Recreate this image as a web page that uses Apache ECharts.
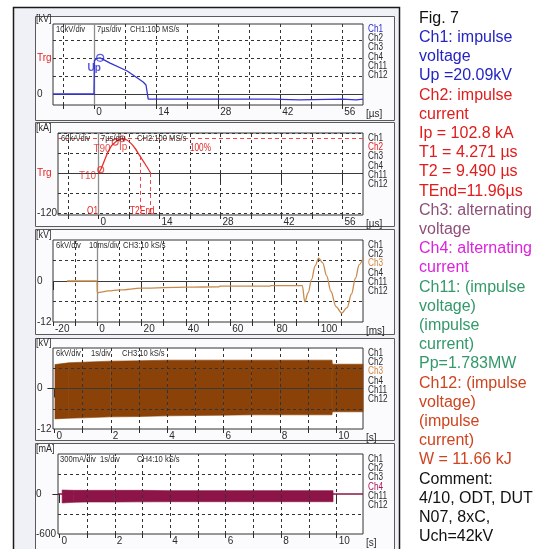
<!DOCTYPE html>
<html>
<head>
<meta charset="utf-8">
<script src="https://cdn.jsdelivr.net/npm/echarts@6/dist/echarts.min.js"></script>
<style>
  html, body { margin: 0; padding: 0; background: #ffffff; }
  #c { width: 536px; height: 549px; }
</style>
</head>
<body>
<div id="c"></div>
<script>
// ---------- Measured values ----------
// Ch1: impulse voltage [kV] over time [µs]
const upPeak = 20.09;
const upTime = 1.35;
const ch1Time = [-9.3, -0.05, 0.05, 0.6, upTime, 3.6, 7.45, 11.06, 11.7, 12.2, 40.2, 40.6, 46.3, 46.7, 56.0, 56.4, 59.2, 59.6, 60.7];
const ch1Volt = [0, 0, 18.5, 19.8, upPeak, 17.2, 12.8, 6.7, 5.0, -2.8, -2.8, -3.3, -3.3, -2.8, -2.8, -3.3, -3.3, -2.8, -2.8];

// Ch2: impulse current [kA] over time [µs]
const ipPeak = 102.8;
const t1 = 4.271, t2 = 9.490, tEnd = 11.96;
const ch2Time = [0, 0.5, 1.2, 2.0, 3.0, 3.83, 4.6, 5.4, 6.5, 7.5, 8.5, t2, 10.7, tEnd];
const ch2Curr = [0, 10, 32, 58, 82, 92.5, 99, ipPeak, 99, 88, 72, 51.4, 27, 0];
// marked points on the front: 10 %, 90 %, peak
const ch2MarkTime = [0.5, 3.83, 5.4];
const ch2MarkCurr = [10, 92.5, ipPeak];
const ch2MarkName = ['T10', 'T90', 'Ip'];

// Ch3: alternating voltage [kV] over time [ms]
const ch3Time = [-13.7, -0.1, 0, 1, 5, 10, 20, 40, 55, 55.3, 78, 78.3, 92.6, 93.7, 95.2, 96.8, 98.4, 100, 101.8, 103.6, 105.5, 107.8, 110.4, 112.8, 114.8, 116.6, 118.3, 120];
const ch3Volt = [0, 0, -3.5, -3.3, -2.9, -2.6, -2.1, -1.8, -1.7, -1.5, -1.5, -1.35, -1.35, -6.1, -3.5, 0.5, 4.5, 6.7, 5.3, 1.5, -3, -7.5, -9.4, -7.8, -3.8, 0.8, 4.8, 6.7];

// Ch3 long record: envelope of the alternating voltage [kV] over time [s]
const ch3EnvTime = [0.02, 0.5, 1, 2, 3, 4, 5, 6, 7, 8, 9, 9.84, 9.86, 10.95];
const ch3EnvHigh = [7.1, 7.6, 7.8, 8.1, 8.2, 8.4, 8.4, 8.4, 8.4, 8.4, 8.4, 8.4, 7.2, 7.2];
const ch3EnvLow  = [-9.0, -8.8, -8.7, -8.4, -8.3, -8.1, -8.0, -7.9, -7.8, -7.8, -7.8, -7.8, -6.9, -6.9];

// Ch4 long record: envelope of the alternating current [mA] over time [s]
const ch4EnvTime = [0.1, 0.5, 1, 2, 3, 4, 5, 6, 7, 8, 9, 9.87];
const ch4EnvHigh = [60, 55, 55, 55, 55, 50, 50, 50, 50, 50, 50, 50];
const ch4EnvLow  = [-135, -125, -120, -120, -118, -116, -116, -116, -116, -116, -116, -116];
const ch4LineTime = [-0.05, 10.95];
const ch4LineCurr = [0, 0];

// Axis tick labels
const usTicks = [0, 14, 28, 42, 56];
const usDivs = [-7, 0, 7, 14, 21, 28, 35, 42, 49, 56];
const msTicks = [-20, 0, 20, 40, 60, 80, 100];
const msDivs = [-20, -10, 0, 10, 20, 30, 40, 50, 60, 70, 80, 90, 100, 110];
const sTicks = [0, 2, 4, 6, 8, 10];
const sDivs = [0, 1, 2, 3, 4, 5, 6, 7, 8, 9, 10];

// Side legend text
const notes = [
  ['Fig. 7', '#111111'],
  ['Ch1: impulse', '#2424c4'], ['voltage', '#2424c4'], ['Up =20.09kV', '#2424c4'],
  ['Ch2: impulse', '#e01c1c'], ['current', '#e01c1c'], ['Ip = 102.8 kA', '#e01c1c'],
  ['T1 = 4.271 µs', '#e01c1c'], ['T2 = 9.490 µs', '#e01c1c'], ['TEnd=11.96µs', '#e01c1c'],
  ['Ch3: alternating', '#8e4f78'], ['voltage', '#8e4f78'],
  ['Ch4: alternating', '#dd22dd'], ['current', '#dd22dd'],
  ['Ch11: (impulse', '#33996a'], ['voltage)', '#33996a'], ['(impulse', '#33996a'], ['current)', '#33996a'], ['Pp=1.783MW', '#33996a'],
  ['Ch12: (impulse', '#cf4420'], ['voltage)', '#cf4420'], ['(impulse', '#cf4420'], ['current)', '#cf4420'], ['W = 11.66 kJ', '#cf4420'],
  ['Comment:', '#111111'], ['4/10, ODT, DUT', '#111111'], ['N07, 8xC,', '#111111'], ['Uch=42kV', '#111111']
];
const chanNames = ['Ch1', 'Ch2', 'Ch3', 'Ch4', 'Ch11', 'Ch12'];

// ---------- Layout and styling ----------
const FONT = "'Liberation Sans', Arial, sans-serif";
const INK = '#2b2b2b';
const pair = (xs, ys) => xs.map((x, i) => [x, ys[i]]);

const panels = [
  { box: [16, 120], grid: { left: 53, top: 24, width: 310, height: 81 }, x: [-9.3, 60.7], y: [-6.1, 38.9],
    ticks: usTicks, divs: usDivs, vgrid: [-7, 7, 14, 21, 28, 35, 42, 49, 56], hgrid: [10, 20, 30], x0: true, y0: true,
    ylab: [0, 20], trg: 20, ymargin: 16, unit: '[µs]', yunit: '[kV]', active: 0, activeColor: '#2a2ad0',
    head: ['10kV/div', '7µs/div', 'CH1:100 MS/s'], headX: [56, 97, 130] },
  { box: [122, 226], grid: { left: 58, top: 133, width: 305, height: 82 }, x: [-9.3, 60.7], y: [-126, 120],
    ticks: usTicks, divs: usDivs, vgrid: [-7, 7, 14, 21, 28, 35, 42, 49, 56], hgrid: [120, 60, -60, -120], x0: true, y0: true,
    ylab: [0, -120], trg: 0, ymargin: 21, unit: '[µs]', yunit: '[kA]', active: 1, activeColor: '#e02020',
    head: ['60kA/div', '7µs/div', 'CH2:100 MS/s'], headX: [61, 101, 137] },
  { box: [229, 334], grid: { left: 53, top: 240, width: 310, height: 82 }, x: [-20, 120], y: [-12, 12],
    ticks: msTicks, divs: msDivs, vgrid: [-10, 10, 20, 30, 40, 50, 60, 70, 80, 90, 100, 110], hgrid: [6, -6], x0: true, y0: true,
    ylab: [0, -12], trg: null, ymargin: 16, unit: '[ms]', yunit: '[kV]', active: 2, activeColor: '#d0863e',
    head: ['6kV/div', '10ms/div', 'CH3:10 kS/s'], headX: [56, 89, 123] },
  { box: [338, 440], grid: { left: 53, top: 348, width: 310, height: 81 }, x: [-0.05, 10.95], y: [-12, 12],
    ticks: sTicks, divs: sDivs, vgrid: [1, 2, 3, 4, 5, 6, 7, 8, 9, 10], hgrid: [6, -6], x0: false, y0: true,
    ylab: [0, -12], trg: null, ymargin: 16, unit: '[s]', yunit: '[kV]', active: 2, activeColor: '#d0863e',
    head: ['6kV/div', '1s/div', 'CH3:10 kS/s'], headX: [56, 91, 122] },
  { box: [443, 560], grid: { left: 58, top: 454, width: 305, height: 80 }, x: [-0.05, 10.95], y: [-600, 600],
    ticks: sTicks, divs: sDivs, vgrid: [1, 2, 3, 4, 5, 6, 7, 8, 9, 10], hgrid: [300, -300], x0: false, y0: false,
    ylab: [0, -600], trg: null, ymargin: 22, unit: '[s]', yunit: '[mA]', active: 3, activeColor: '#a8195a',
    head: ['300mA/div', '1s/div', 'CH4:10 kS/s'], headX: [60, 100, 137] }
];

const grids = [], xAxes = [], yAxes = [], series = [], graphics = [];

graphics.push({ type: 'rect', z: -20, shape: { x: 13.5, y: 7.5, width: 386, height: 560 },
  style: { fill: '#f0f0f7', stroke: '#1a1a1a', lineWidth: 1.5 } });

panels.forEach((p, i) => {
  grids.push(Object.assign({ show: true, backgroundColor: '#ffffff', borderColor: '#333333', borderWidth: 1 }, p.grid));
  // labelled ticks
  xAxes.push({
    type: 'value', gridIndex: i, min: p.x[0], max: p.x[1], position: 'bottom',
    axisLine: { show: false }, splitLine: { show: false },
    axisTick: { show: true, customValues: p.ticks, length: 9, lineStyle: { color: INK } },
    axisLabel: { customValues: p.ticks, showMinLabel: true, showMaxLabel: true, align: 'left', margin: 2,
      padding: [0, 0, 0, 2], fontSize: 10, color: INK, fontFamily: FONT }
  });
  // division ticks
  xAxes.push({
    type: 'value', gridIndex: i, min: p.x[0], max: p.x[1], position: 'bottom',
    axisLine: { show: false }, splitLine: { show: false }, axisLabel: { show: false },
    axisTick: { show: true, customValues: p.divs, length: 4, lineStyle: { color: INK } }
  });
  yAxes.push({
    type: 'value', gridIndex: i, min: p.y[0], max: p.y[1],
    axisLine: { show: false }, splitLine: { show: false },
    axisTick: { show: true, customValues: [0], length: 7, lineStyle: { color: INK } },
    axisLabel: {
      customValues: p.ylab, align: 'left', margin: p.ymargin, fontSize: 10, color: INK, fontFamily: FONT,
      formatter: v => (p.trg !== null && v === p.trg) ? '{t|Trg}' : String(v),
      rich: { t: { color: '#e42222', fontSize: 10, fontFamily: FONT } }
    }
  });

  // division grid and zero lines
  const ml = [];
  p.vgrid.forEach(v => ml.push({ xAxis: v, lineStyle: { type: [3, 3], color: '#333333', width: 1 } }));
  p.hgrid.forEach(v => ml.push({ yAxis: v, lineStyle: { type: [3, 3], color: '#333333', width: 1 } }));
  if (p.x0) ml.push({ xAxis: 0, lineStyle: { type: 'solid', color: '#8d8d8d', width: 1.3 } });
  if (p.y0) ml.push({ yAxis: 0, lineStyle: { type: 'solid', color: '#3a3a3a', width: 1.2 } });
  series.push({
    type: 'line', xAxisIndex: 2 * i, yAxisIndex: i, data: [], z: 4, silent: true,
    markLine: { symbol: ['none', 'none'], silent: true, animation: false, label: { show: false }, data: ml }
  });

  // panel frame
  graphics.push({ type: 'rect', z: -10, shape: { x: 35.5, y: p.box[0] + 0.5, width: 359, height: p.box[1] - p.box[0] },
    style: { fill: '#fbfbfd', stroke: '#5a5a5a', lineWidth: 1 } });
  // unit labels
  graphics.push({ type: 'text', z: 50, x: 36, y: p.grid.top - 5,
    style: { text: p.yunit, fontSize: 10, fontFamily: FONT, fill: INK, textVerticalAlign: 'middle' }, scaleX: 0.9 });
  graphics.push({ type: 'text', z: 50, x: 366, y: p.grid.top + p.grid.height + 9,
    style: { text: p.unit, fontSize: 10, fontFamily: FONT, fill: INK, textVerticalAlign: 'middle' } });
  // header row inside the plot
  p.head.forEach((s, k) => graphics.push({ type: 'text', z: 50, x: p.headX[k], y: p.grid.top + 5, scaleX: 0.8,
    style: { text: s, fontSize: 9.5, fontFamily: FONT, fill: INK, textVerticalAlign: 'middle' } }));
  // channel list
  chanNames.forEach((s, k) => graphics.push({ type: 'text', z: 50, x: 368, y: p.grid.top + 5 + k * 9.3, scaleX: 0.82,
    style: { text: s, fontSize: 10, fontFamily: FONT, fill: k === p.active ? p.activeColor : INK, textVerticalAlign: 'middle' } }));
});

// filled envelope between a high and a low trace, drawn through the axis scales
function envelope(xi, yi, ts, hi, lo, color) {
  return {
    type: 'custom', xAxisIndex: xi, yAxisIndex: yi, z: 2, silent: true,
    data: ts.map((t, k) => [t, hi[k], lo[k]]),
    encode: { x: 0, y: [1, 2] },
    renderItem: (params, api) => {
      const k = params.dataIndexInside;
      if (k >= params.dataInsideLength - 1) return null;
      const pts = [
        api.coord([api.value(0, k), api.value(1, k)]),
        api.coord([api.value(0, k + 1), api.value(1, k + 1)]),
        api.coord([api.value(0, k + 1), api.value(2, k + 1)]),
        api.coord([api.value(0, k), api.value(2, k)])
      ];
      return { type: 'polygon', shape: { points: pts }, style: { fill: color, stroke: color, lineWidth: 0.6 } };
    }
  };
}

// ---- Panel 1: impulse voltage ----
series.push({ type: 'line', xAxisIndex: 0, yAxisIndex: 0, data: pair(ch1Time, ch1Volt), symbol: 'none',
  lineStyle: { color: '#3434d6', width: 1.3 }, z: 5 });
series.push({ type: 'scatter', xAxisIndex: 0, yAxisIndex: 0, data: [[upTime, upPeak]], symbol: 'circle', symbolSize: 7,
  itemStyle: { color: 'rgba(0,0,0,0)', borderColor: '#3434d6', borderWidth: 1.2 }, z: 6,
  label: { show: true, position: 'bottom', distance: 1, offset: [-6, 0], formatter: 'Up', color: '#2a2ad0', fontSize: 10, fontFamily: FONT, fontWeight: 'bold' } });

// ---- Panel 2: impulse current ----
const redDash = { type: [4, 3], color: '#f04848', width: 1 };
series.push({ type: 'line', xAxisIndex: 2, yAxisIndex: 1, data: pair(ch2Time, ch2Curr), symbol: 'none', smooth: 0.25,
  lineStyle: { color: '#e83030', width: 1.3 }, z: 5,
  markLine: { symbol: ['none', 'none'], silent: true, animation: false, label: { show: false }, data: [
    { yAxis: ipPeak, lineStyle: redDash },
    [{ coord: [t2, ch2Curr[ch2Time.indexOf(t2)]], lineStyle: redDash }, { coord: [t2, -120] }],
    [{ coord: [tEnd, 0], lineStyle: redDash }, { coord: [tEnd, -120] }]
  ] } });
const markLabelPos = [
  { position: 'left', distance: 1, offset: [0, 7] },
  { position: 'left', distance: 1, offset: [0, 7] },
  { position: 'bottom', distance: 0, offset: [1, 0] }
];
series.push({ type: 'scatter', xAxisIndex: 2, yAxisIndex: 1, symbol: 'circle', symbolSize: 6,
  data: ch2MarkTime.map((t, k) => ({ value: [t, ch2MarkCurr[k]], name: ch2MarkName[k], label: markLabelPos[k] })),
  itemStyle: { color: 'rgba(0,0,0,0)', borderColor: '#e83030', borderWidth: 1.1 }, z: 6,
  label: { show: true, color: '#e42222', fontSize: 10, fontFamily: FONT, formatter: '{b}' } });
graphics.push({ type: 'text', z: 50, x: 190, y: 148, scaleX: 0.82,
  style: { text: '100%', fontSize: 10, fontFamily: FONT, fill: '#e42222', textVerticalAlign: 'middle' } });
graphics.push({ type: 'text', z: 50, x: 87, y: 211, scaleX: 0.82,
  style: { text: 'O1', fontSize: 10, fontFamily: FONT, fill: '#e42222', textVerticalAlign: 'middle' } });
graphics.push({ type: 'text', z: 50, x: 130, y: 211, scaleX: 0.82,
  style: { text: 'T2', fontSize: 10, fontFamily: FONT, fill: '#e42222', textVerticalAlign: 'middle' } });
graphics.push({ type: 'text', z: 50, x: 140, y: 211, scaleX: 0.82,
  style: { text: 'End', fontSize: 10, fontFamily: FONT, fill: '#e42222', textVerticalAlign: 'middle' } });

// ---- Panel 3: alternating voltage, short window ----
series.push({ type: 'line', xAxisIndex: 4, yAxisIndex: 2, data: pair(ch3Time, ch3Volt), symbol: 'none',
  smooth: 0.35, smoothMonotone: 'x', lineStyle: { color: '#c98a4b', width: 1.3 }, z: 5 });

// ---- Panel 4: alternating voltage envelope ----
series.push(envelope(6, 3, ch3EnvTime, ch3EnvHigh, ch3EnvLow, '#8a4208'));

// ---- Panel 5: alternating current envelope ----
series.push({ type: 'line', xAxisIndex: 8, yAxisIndex: 4, data: pair(ch4LineTime, ch4LineCurr), symbol: 'none',
  lineStyle: { color: '#8c1446', width: 1.5 }, z: 1 });
series.push(envelope(8, 4, ch4EnvTime, ch4EnvHigh, ch4EnvLow, '#8c1446'));

// ---- Side notes ----
notes.forEach((n, k) => graphics.push({ type: 'text', z: 50, x: 419, y: 18.3 + k * 19.2,
  style: { text: n[0], fontSize: 16, fontFamily: FONT, fill: n[1], textVerticalAlign: 'middle' } }));

const chart = echarts.init(document.getElementById('c'), null, { renderer: 'canvas', width: 536, height: 549 });
chart.setOption({
  animation: false,
  backgroundColor: '#ffffff',
  grid: grids, xAxis: xAxes, yAxis: yAxes, series: series,
  graphic: { elements: graphics }
});
</script>
</body>
</html>
